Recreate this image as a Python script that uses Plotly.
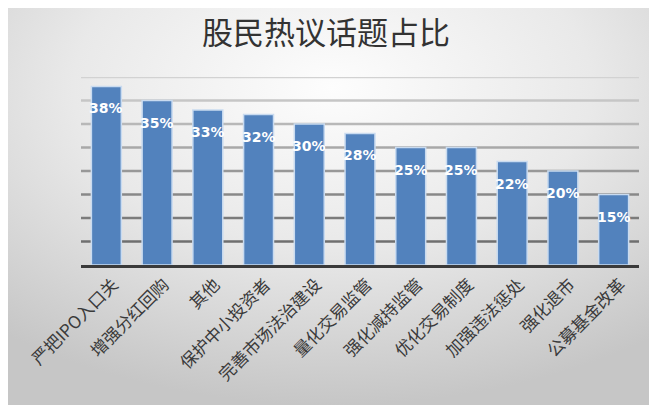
import base64
import plotly.graph_objects as go

# 股民热议话题占比
topics = ["严把IPO入口关", "增强分红回购", "其他", "保护中小投资者", "完善市场法治建设",
          "量化交易监管", "强化减持监管", "优化交易制度", "加强违法惩处", "强化退市", "公募基金改革"]
shares = [38, 35, 33, 32, 30, 28, 25, 25, 22, 20, 15]
labels = ["38%", "35%", "33%", "32%", "30%", "28%", "25%", "25%", "22%", "20%", "15%"]

grid_vals = [5, 10, 15, 20, 25, 30, 35, 40]
grid_cols = ["#6f6f6f", "#7b7b7b", "#888888", "#989898", "#a8a8a8", "#b8b8b8", "#c6c6c6", "#d2d2d2"]

# page body has an 8px default margin, so the figure is shrunk to fit the window
W, H = 649, 397
ml, mr, mt, mb = 73, 18, 69, 140
pw, ph = W - ml - mr, H - mt - mb

# soft grey radial background
svg = ('<svg xmlns="http://www.w3.org/2000/svg" width="649" height="397">'
       '<defs><radialGradient id="g" cx="0.5" cy="0.2" r="0.8">'
       '<stop offset="0" stop-color="#fdfdfd"/><stop offset="0.5" stop-color="#e9e9e9"/>'
       '<stop offset="1" stop-color="#c6c6c6"/></radialGradient></defs>'
       '<rect width="649" height="397" fill="url(#g)"/></svg>')
bg = "data:image/svg+xml;base64," + base64.b64encode(svg.encode()).decode()

fig = go.Figure()
fig.add_trace(go.Bar(
    x=topics, y=shares,
    marker=dict(color="#5282bd", line=dict(color="#c9dbf0", width=1.5)),
    hoverinfo="skip",
))

for t, v, s in zip(topics, shares, labels):
    fig.add_annotation(x=t, y=v, text="<b>" + s + "</b>", showarrow=False,
                       yanchor="top", yshift=-12,
                       font=dict(family="DejaVu Sans", size=14, color="white"))

for v, c in zip(grid_vals, grid_cols):
    fig.add_shape(type="line", xref="paper", yref="y", x0=0, x1=1, y0=v, y1=v,
                  line=dict(color=c, width=2.5), layer="below")

fig.add_layout_image(dict(
    source=bg, xref="paper", yref="paper",
    x=-ml / pw, y=1 + mt / ph, sizex=W / pw, sizey=H / ph,
    xanchor="left", yanchor="top", sizing="stretch", layer="below"))

fig.update_layout(
    width=W, height=H,
    margin=dict(l=ml, r=mr, t=mt, b=mb),
    paper_bgcolor="#e4e4e4", plot_bgcolor="rgba(0,0,0,0)",
    bargap=0.41, showlegend=False,
    title=dict(text="股民热议话题占比", x=0.49, xref="container", xanchor="center",
               y=1 - 25 / H, yanchor="middle",
               font=dict(family="Noto Sans CJK SC", size=31, color="#333333")),
    xaxis=dict(tickangle=-45, showgrid=False, showline=True, linecolor="#3a3a3a",
               linewidth=3, ticks="", automargin=False, ticklabelshift=7,
               tickfont=dict(family="Noto Sans CJK SC", size=17, color="#3a3a3a")),
    yaxis=dict(range=[0, 40], showgrid=False, zeroline=False, showticklabels=False,
               ticks="", automargin=False),
)

fig.write_html("out.html")
